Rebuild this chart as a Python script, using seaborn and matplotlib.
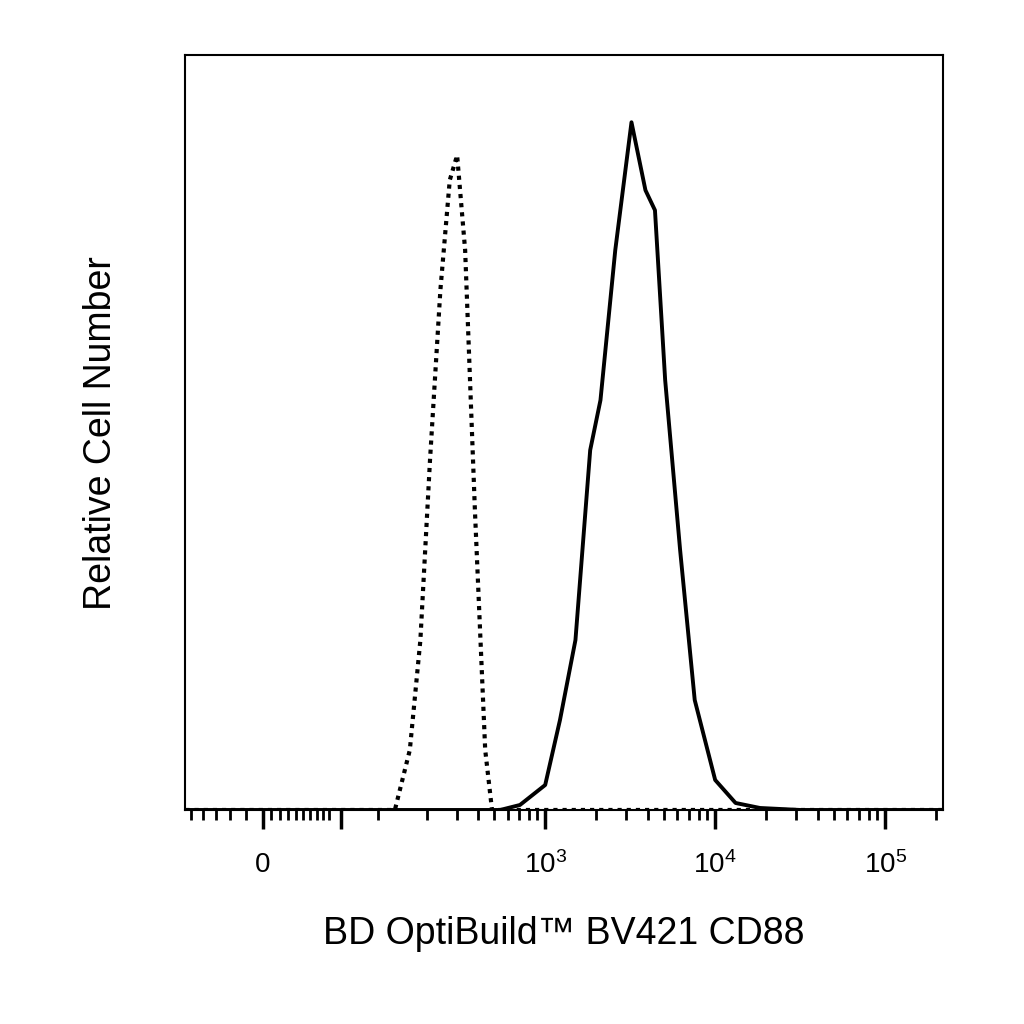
import numpy as np
import pandas as pd
import matplotlib
matplotlib.use("Agg")
import matplotlib.pyplot as plt
import seaborn as sns

# Fluorescence values (BV421) and relative counts
stained_x = [-55, 0, 300, 543, 710, 1000, 1222, 1507, 1840, 2115, 2584, 3219, 3890, 4424, 5080, 6220, 7580, 10000, 13180, 18350, 31750, 219000]
stained_y = [0, 0, 0, 0, 5, 25, 90, 170, 360, 410, 560, 688, 620, 600, 430, 260, 110, 30, 7, 2, 0, 0]
control_x = [-55, 0, 127, 157, 182, 208, 240, 273, 302, 337, 385, 443, 486, 1000, 219000]
control_y = [0, 0, 0, 60, 170, 350, 520, 630, 655, 560, 300, 60, 0, 0, 0]
major_ticks = [0, 1e3, 1e4, 1e5]
major_labels = ["0", "$10^3$", "$10^4$", "$10^5$"]

C = 43.8
fwd = lambda x: np.arcsinh(np.asarray(x) / C)
inv = lambda u: C * np.sinh(np.asarray(u))

sns.set_style("white")
plt.rcParams['font.family'] = ['Liberation Sans', 'DejaVu Sans']
plt.rcParams['mathtext.fontset'] = 'custom'
plt.rcParams['mathtext.rm'] = 'Liberation Sans'
plt.rcParams['mathtext.it'] = 'Liberation Sans'
plt.rcParams['mathtext.default'] = 'regular'

fig = plt.figure(figsize=(10.24, 10.24), dpi=100)
ax = fig.add_axes([0.181, 0.209, 0.740, 0.737])

df_s = pd.DataFrame({"x": stained_x, "y": stained_y})
df_c = pd.DataFrame({"x": control_x, "y": control_y})
sns.lineplot(data=df_c, x="x", y="y", ax=ax, color="black", lw=3, linestyle=(0, (1, 1.2)), sort=False)
sns.lineplot(data=df_s, x="x", y="y", ax=ax, color="black", lw=2.8, sort=False)

ax.set_xscale('function', functions=(fwd, inv))
ax.set_xlim(-55, 219000)
ax.set_ylim(0, 755)

minor = list(range(-50, 0, 10)) + list(range(5, 50, 5)) + list(range(100, 1000, 100)) \
    + list(range(1000, 10000, 1000)) + list(range(10000, 100000, 10000)) + [200000]
ax.set_xticks(major_ticks + [55])
ax.set_xticklabels(major_labels + [""])
ax.set_xticks(minor, minor=True)
ax.tick_params(axis='x', which='major', direction='out', length=14, width=2.5, labelsize=20,
               pad=16, bottom=True, colors='black')
ax.tick_params(axis='x', which='minor', direction='out', length=7, width=2, bottom=True, colors='black')
ax.set_yticks([])

for s in ax.spines.values():
    s.set_linewidth(1.5)
    s.set_color("black")

ax.set_xlabel("BD OptiBuild™ BV421 CD88", fontsize=27, labelpad=26, color='black')
ax.set_ylabel("Relative Cell Number", fontsize=27, labelpad=48, color='black')

fig.savefig("out.png", dpi=100)
